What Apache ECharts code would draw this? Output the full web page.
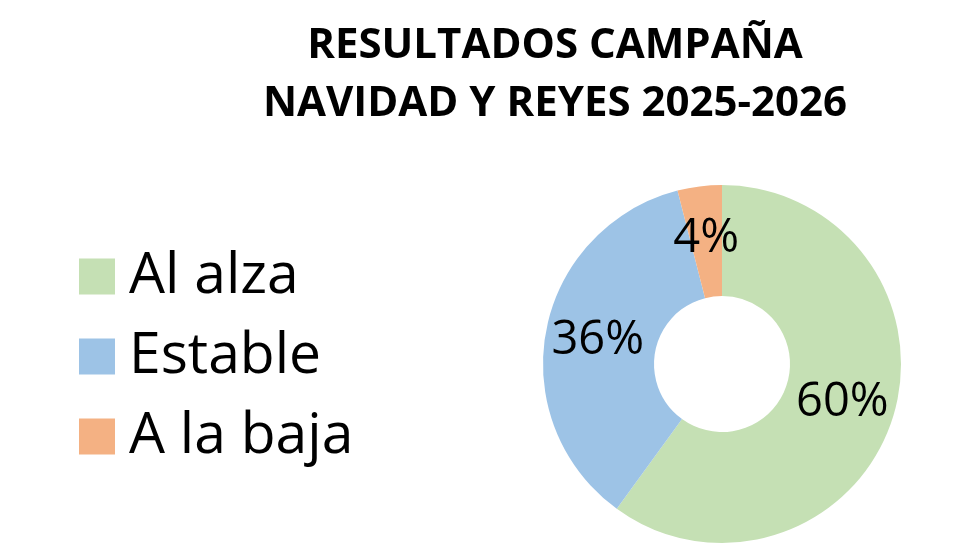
<!DOCTYPE html>
<html>
<head>
<meta charset="utf-8">
<script src="https://cdn.jsdelivr.net/npm/echarts@6/dist/echarts.min.js"></script>
<style>html,body{margin:0;padding:0;background:#fff}#c{width:980px;height:560px}</style>
</head>
<body>
<div id="c"></div>
<script>
const titleLines = ['RESULTADOS CAMPAÑA', 'NAVIDAD Y REYES 2025-2026'];
const categories = ['Al alza', 'Estable', 'A la baja'];
const values = [60, 36, 4];
const colors = ['#C5E0B4', '#9DC3E6', '#F4B183'];

const chart = echarts.init(document.getElementById('c'), null, {renderer: 'canvas'});
chart.setOption({
  backgroundColor: '#ffffff',
  animation: false,
  title: {
    text: titleLines.join('\n'),
    left: 550,
    top: 12,
    textAlign: 'center',
    textStyle: {fontFamily: 'Open Sans', fontWeight: 'bold', fontSize: 42, lineHeight: 58, color: '#000'}
  },
  legend: {
    orient: 'vertical',
    left: 79,
    top: 248,
    padding: 0,
    itemWidth: 36,
    itemHeight: 36,
    itemGap: 23,
    icon: 'rect',
    textStyle: {fontFamily: 'Open Sans', fontSize: 57, lineHeight: 52, color: '#000', padding: [0, 0, 0, 9]},
    data: categories
  },
  series: [{
    type: 'pie',
    center: [722, 364],
    radius: [68, 179],
    startAngle: 90,
    clockwise: true,
    itemStyle: {borderWidth: 0},
    label: {
      position: 'inside',
      formatter: '{c}%',
      fontFamily: 'Open Sans',
      fontSize: 47,
      color: '#000'
    },
    labelLine: {show: false},
    emphasis: {disabled: true},
    data: categories.map((n, i) => ({name: n, value: values[i], itemStyle: {color: colors[i]}}))
  }]
});
</script>
</body>
</html>
